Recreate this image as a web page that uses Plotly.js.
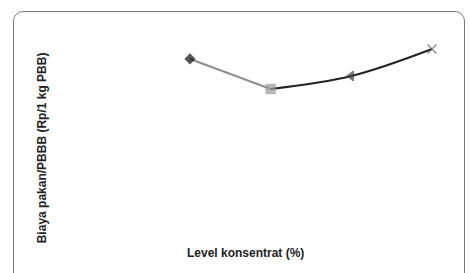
<!DOCTYPE html>
<html><head><meta charset="utf-8">
<script src="https://cdn.plot.ly/plotly-3.0.1.min.js"></script>
<style>
html,body{margin:0;padding:0;background:#fff;}
#frame{position:absolute;left:13px;top:11px;width:452px;height:275px;border:1.5px solid #7a7a7a;border-radius:10px;box-sizing:border-box;}
#chart{position:absolute;left:0;top:0;width:470px;height:273px;}
</style></head>
<body>
<div id="frame"></div>
<div id="chart"></div>
<script>
// Concentrate levels (positions 0..3) and feed cost per kg gain (relative units)
const levels = [0, 1, 2, 3];
const cost = [80.8, 66.0, 72.4, 85.7];
const symbols = ['diamond', 'square', 'triangle-left', 'x-thin'];
const markerColors = ['#111111', '#9a9a9a', '#444444', '#666666'];

const traces = [
  {x: levels.slice(0, 2), y: cost.slice(0, 2), mode: 'lines', line: {shape: 'spline', color: '#8f8f8f', width: 2}, hoverinfo: 'skip'},
  {x: levels.slice(1), y: cost.slice(1), mode: 'lines', line: {shape: 'spline', color: '#222222', width: 2}, hoverinfo: 'skip'},
  {x: levels, y: cost, mode: 'markers',
   marker: {symbol: symbols, color: markerColors, size: [7, 9, 8, 9], line: {color: markerColors, width: 1.5}}}
];

const layout = {
  width: 470, height: 273,
  margin: {l: 50, r: 30, t: 20, b: 50},
  paper_bgcolor: 'rgba(0,0,0,0)', plot_bgcolor: 'rgba(0,0,0,0)',
  showlegend: false,
  xaxis: {range: [-1.7355, 3.099], visible: false},
  yaxis: {range: [0, 100], visible: false},
  annotations: [
    {text: '<b>Biaya pakan/PBBB (Rp/1 kg PBB)</b>', xref: 'paper', yref: 'paper', x: -0.02, y: 0.369,
     xanchor: 'center', yanchor: 'middle',
     textangle: -90, showarrow: false, font: {family: 'Liberation Sans, Arial', size: 12, color: '#222'}},
    {text: '<b>Level konsentrat (%)</b>', xref: 'paper', yref: 'paper', x: 0.5, y: -0.148,
     xanchor: 'center', yanchor: 'middle',
     showarrow: false, font: {family: 'Liberation Sans, Arial', size: 12, color: '#222'}}
  ]
};
Plotly.newPlot('chart', traces, layout, {displayModeBar: false, staticPlot: true});
</script>
</body></html>
